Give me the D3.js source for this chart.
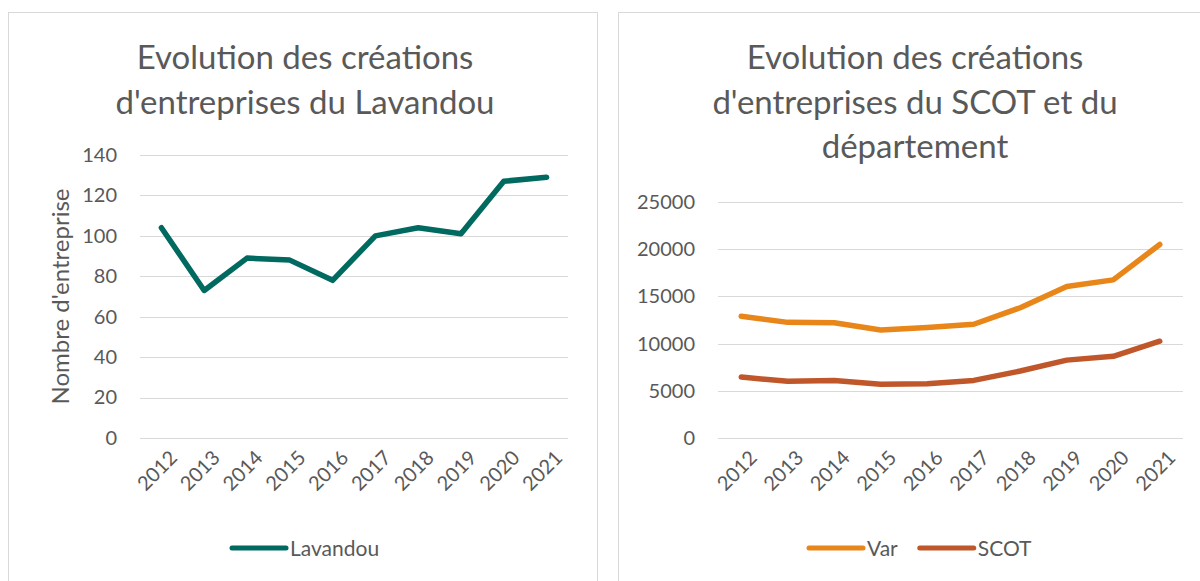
<!DOCTYPE html>
<html>
<head>
<meta charset="utf-8">
<script src="https://cdn.jsdelivr.net/npm/d3@7"></script>
<style>
  body { margin: 0; background: #fff; }
  svg { display: block; font-family: Lato, "Open Sans", sans-serif; }
</style>
</head>
<body>
<svg id="chart" width="1200" height="581"></svg>
<script>
// données
var annees = ["2012", "2013", "2014", "2015", "2016", "2017", "2018", "2019", "2020", "2021"];
var lavandou = [104, 73, 89, 88, 78, 100, 104, 101, 127, 129];
var varDep = [12900, 12250, 12200, 11450, 11700, 12050, 13800, 16050, 16750, 20500];
var scot = [6450, 6000, 6100, 5700, 5750, 6100, 7100, 8250, 8650, 10250];
var ticksGauche = [0, 20, 40, 60, 80, 100, 120, 140];
var ticksDroite = [0, 5000, 10000, 15000, 20000, 25000];

var _textColor = "#595959";
var _gridColor = "#d9d9d9";

var svg = d3.select("#chart");

var dessinerPanneau = function(opts){
	var g = svg.append("g");

	// cadre
	g.append("rect")
		.attr("x", opts.cadre[0] + 0.5).attr("y", opts.cadre[1] + 0.5)
		.attr("width", opts.cadre[2]).attr("height", opts.cadre[3])
		.style("fill", "none").style("stroke", _gridColor);

	// titre
	opts.titre.forEach(function(ligne, i){
		g.append("text")
			.attr("x", opts.titreX).attr("y", opts.titreY + i * 44.5)
			.attr("text-anchor", "middle")
			.style("font-size", "33px").style("fill", _textColor)
			.text(ligne);
	});

	var x = d3.scaleBand().domain(annees).range([opts.x0, opts.x1]);
	var y = d3.scaleLinear().domain([0, opts.max]).range([opts.y0, opts.y1]);

	// grille
	g.selectAll(".grid").data(opts.ticks).enter()
		.append("line")
		.attr("x1", opts.x0).attr("x2", opts.x1)
		.attr("y1", function(d){ return Math.round(y(d)) + 0.5; })
		.attr("y2", function(d){ return Math.round(y(d)) + 0.5; })
		.style("stroke", _gridColor).style("stroke-width", 1);

	// axe y
	var axeY = g.append("g")
		.attr("transform", "translate(" + (opts.x0 - 20) + ",0)")
		.call(d3.axisLeft(y).tickValues(opts.ticks).tickSize(0).tickFormat(d3.format("d")));
	axeY.select(".domain").remove();
	axeY.selectAll("text").style("font-size", "20px").style("fill", _textColor)
		.style("font-family", "Lato, sans-serif");

	// axe x
	var axeX = g.append("g")
		.attr("transform", "translate(0," + (opts.y0 + 14) + ")")
		.call(d3.axisBottom(x).tickSize(0));
	axeX.select(".domain").remove();
	axeX.selectAll("text")
		.style("font-size", "20px").style("fill", _textColor)
		.style("font-family", "Lato, sans-serif")
		.attr("text-anchor", "end")
		.attr("dy", "0.35em")
		.attr("transform", "translate(10,0) rotate(-45)");

	// séries
	opts.series.forEach(function(s){
		var ligne = d3.line()
			.x(function(d, i){ return x(annees[i]) + x.bandwidth() / 2; })
			.y(function(d){ return y(d); });
		g.append("path")
			.datum(s.valeurs)
			.attr("d", ligne)
			.style("fill", "none").style("stroke", s.couleur)
			.style("stroke-width", 5.5).style("stroke-linejoin", "round")
			.style("stroke-linecap", "round");
	});

	// légende
	var lx = opts.legendeX;
	opts.series.forEach(function(s){
		g.append("line")
			.attr("x1", lx).attr("x2", lx + 54)
			.attr("y1", opts.legendeY).attr("y2", opts.legendeY)
			.style("stroke", s.couleur).style("stroke-width", 5)
			.style("stroke-linecap", "round");
		var t = g.append("text")
			.attr("x", lx + 58).attr("y", opts.legendeY + 7.5)
			.style("font-size", "21px").style("fill", _textColor)
			.text(s.nom);
		lx += 58 + t.node().getComputedTextLength() + 22;
	});

	// titre axe y
	if (opts.titreAxeY){
		g.append("text")
			.attr("transform", "translate(69," + ((opts.y0 + opts.y1) / 2) + ") rotate(-90)")
			.attr("text-anchor", "middle")
			.style("font-size", "24px").style("fill", _textColor)
			.text(opts.titreAxeY);
	}
};

dessinerPanneau({
	cadre: [8, 12, 589, 600],
	titre: ["Evolution des créations", "d'entreprises du Lavandou"],
	titreX: 305, titreY: 69,
	x0: 140, x1: 568, y0: 438, y1: 155, max: 140, ticks: ticksGauche,
	series: [{ nom: "Lavandou", valeurs: lavandou, couleur: "#016a60" }],
	legendeX: 232, legendeY: 548,
	titreAxeY: "Nombre d'entreprise"
});

dessinerPanneau({
	cadre: [618, 12, 600, 600],
	titre: ["Evolution des créations", "d'entreprises du SCOT et du", "département"],
	titreX: 915, titreY: 69,
	x0: 718, x1: 1183, y0: 438, y1: 202, max: 25000, ticks: ticksDroite,
	series: [
		{ nom: "Var", valeurs: varDep, couleur: "#e8861a" },
		{ nom: "SCOT", valeurs: scot, couleur: "#c0572b" }
	],
	legendeX: 809, legendeY: 548
});
</script>
</body>
</html>
